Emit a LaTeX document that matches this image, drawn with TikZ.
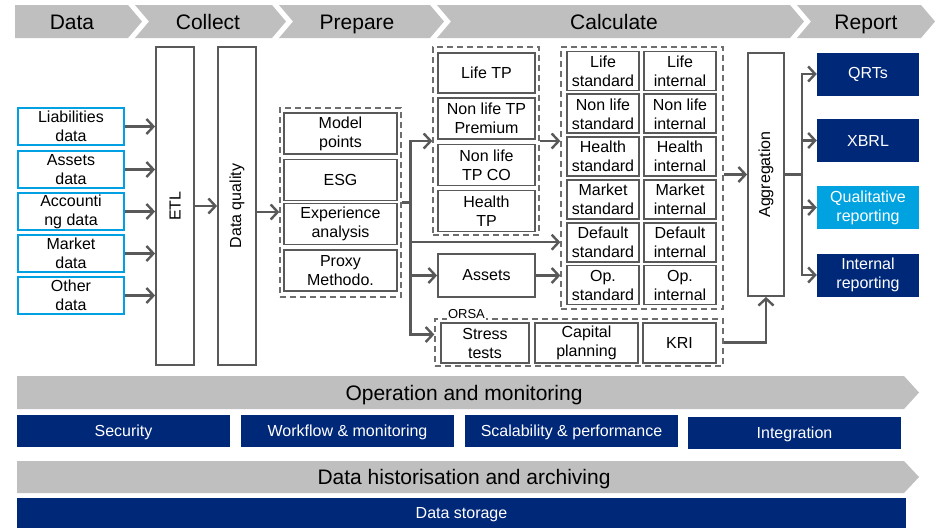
\documentclass[tikz,border=0pt]{standalone}
\usepackage{fontspec}
\setmainfont{Liberation Sans}
\usetikzlibrary{arrows.meta}
\definecolor{hdrgray}{RGB}{191,191,191}
\definecolor{lngray}{RGB}{89,89,89}
\definecolor{dshgray}{RGB}{110,110,110}
\definecolor{srcblue}{RGB}{0,160,226}
\definecolor{navy}{RGB}{0,40,120}
\definecolor{skyblue}{RGB}{0,163,224}
\tikzstyle{srcbox}=[rectangle,draw=srcblue,line width=1.6pt,minimum width=106pt,minimum height=37pt,inner sep=1pt,align=center,font=\fontsize{16}{19}\selectfont]
\tikzstyle{gbox}=[rectangle,draw=lngray,line width=1.8pt,inner sep=1pt,align=center,font=\fontsize{16}{19}\selectfont]
\tikzstyle{cbox}=[gbox,minimum width=72pt,minimum height=39pt]
\tikzstyle{grp}=[rectangle,draw=dshgray,line width=1.3pt,dash pattern=on 6pt off 4pt]
\tikzstyle{repbox}=[rectangle,fill=navy,text=white,minimum width=102pt,minimum height=43pt,inner sep=1pt,align=center,font=\fontsize{16}{19}\selectfont]
\tikzstyle{barbox}=[rectangle,fill=navy,text=white,minimum height=32pt,text height=11.5pt,text depth=0pt,font=\fontsize{16}{19}\selectfont]
\tikzstyle{arr}=[draw=lngray,line width=2.4pt,-{Straight Barb[length=7pt,width=15pt]}]
\tikzstyle{ln}=[draw=lngray,line width=2.4pt]
\tikzstyle{hdr}=[text height=15pt,text depth=0pt,font=\fontsize{21}{25}\selectfont]

\begin{document}
\begin{tikzpicture}[x=1pt,y=-1pt]
\useasboundingbox (0,0) rectangle (936,528);
\foreach \xa/\xb/\nd in {15/128/0,135/272/14,279/430/14,437/790/14,797/921/14}
  \fill[hdrgray] (\xa,5) -- (\xb,5) -- (\xb+14,21.5) -- (\xb,38) -- (\xa,38) -- (\xa+\nd,21.5) -- cycle;
\node (hdata) at (72,22)[hdr] {Data};
\node (hcoll) at (208,22)[hdr] {Collect};
\node (hprep) at (357,22)[hdr] {Prepare};
\node (hcalc) at (614,22)[hdr] {Calculate};
\node (hrep) at (866,22)[hdr] {Report};

\node (lia) at (71,126.5)[srcbox] {Liabilities\\data};
\node (ass) at (71,169.5)[srcbox] {Assets\\data};
\node (acc) at (71,211.5)[srcbox] {Accounti\\ng data};
\node (mkt) at (71,253.5)[srcbox] {Market\\data};
\node (oth) at (71,295.5)[srcbox] {Other\\data};
\node (etl) at (175,206)[gbox,minimum width=38pt,minimum height=318pt] {\rotatebox{90}{ETL}};
\node (dq) at (237,206)[gbox,minimum width=38pt,minimum height=318pt] {\rotatebox{90}{Data quality}};

\node (prep) at (340.5,202.5)[grp,minimum width=121pt,minimum height=189pt] {};
\node (mp) at (340.5,133.5)[gbox,minimum width=113pt,minimum height=41pt] {Model\\points};
\node (esg) at (340.5,180)[gbox,minimum width=113pt,minimum height=41pt] {ESG};
\node (exp) at (340.5,224)[gbox,minimum width=113pt,minimum height=41pt] {Experience\\analysis};
\node (prx) at (340.5,270.5)[gbox,minimum width=113pt,minimum height=41pt] {Proxy\\Methodo.};

\node (tpgrp) at (486,141)[grp,minimum width=106pt,minimum height=188pt] {};
\node (ltp) at (486.5,73)[gbox,minimum width=97pt,minimum height=40pt] {Life TP};
\node (ntp) at (486.5,118.5)[gbox,minimum width=97pt,minimum height=41pt] {Non life TP\\Premium};
\node (nco) at (486.5,165)[gbox,minimum width=97pt,minimum height=41pt] {Non life\\TP CO};
\node (htp) at (486.5,211)[gbox,minimum width=97pt,minimum height=41pt] {Health\\TP};
\node (assets) at (486.5,275.5)[gbox,minimum width=97pt,minimum height=43pt] {Assets};

\node (calc) at (642,178)[grp,minimum width=162pt,minimum height=262pt] {};
\foreach \nm/\lbl [count=\i from 0] in {life/Life,nonlife/Non life,health/Health,market/Market,default/Default,op/Op.}{
  \node (std\nm) at (603,71+42.8*\i)[cbox] {\lbl\\standard};
  \node (int\nm) at (680,71+42.8*\i)[cbox] {\lbl\\internal};
}

\node (orsa) at (579,342.5)[grp,minimum width=288pt,minimum height=47pt] {};
\node (orsalbl) at ([xshift=12pt,yshift=4pt]orsa.north west)[anchor=west,fill=white,inner sep=1.5pt,font=\fontsize{13}{15}\selectfont] {ORSA};
\node (sts) at (485,343)[gbox,minimum width=88pt,minimum height=40pt] {Stress\\tests};
\node (cap) at (586.5,343)[gbox,minimum width=103pt,minimum height=40pt] {Capital\\planning};
\node (kri) at (679.5,343)[gbox,minimum width=73pt,minimum height=40pt] {KRI};

\node (agg) at (766,174.5)[gbox,minimum width=36pt,minimum height=243pt] {\rotatebox{90}{Aggregation}};
\node (qrt) at (868,74)[repbox] {QRTs};
\node (xbrl) at (868,140.5)[repbox] {XBRL};
\node (qual) at (868,207.5)[repbox,fill=skyblue] {Qualitative\\reporting};
\node (intr) at (868,275)[repbox] {Internal\\reporting};

\foreach \s in {lia,ass,acc,mkt,oth} \draw[arr] (\s) -- (\s -| etl.west);
\draw[arr] (etl) -- (dq);
\draw[arr] ([yshift=-6pt]dq.east) -- ([yshift=-6pt]dq.east -| prep.west);
\coordinate (trunk) at ([xshift=9pt]prep.east);
\draw[ln] (prep.east) -- (trunk);
\draw[arr] (trunk) |- (tpgrp.west);
\draw[arr] (trunk) |- (calc.west |- stddefault);
\draw[arr] (trunk) |- (assets);
\draw[arr] (trunk) |- ([yshift=8pt]orsa.west);
\draw[arr] (tpgrp.east) -- (tpgrp.east -| calc.west);
\draw[arr] (assets) -- (assets -| calc.west);
\draw[arr] (calc.east |- agg) -- (agg);
\draw[arr] (orsa.east) -| (agg);
\coordinate (hub) at ([xshift=17pt]agg.east);
\draw[ln] (agg.east) -- (hub);
\foreach \r in {qrt,xbrl,qual,intr} \draw[arr] (hub) |- (\r);

\fill[hdrgray] (17,376) -- (904,376) -- (919,392.5) -- (904,409) -- (17,409) -- cycle;
\node (opmon) at (464,392.5)[hdr] {Operation and monitoring};
\node (sec) at (123.5,431)[barbox,minimum width=213pt] {Security};
\node (wfm) at (347.5,431)[barbox,minimum width=213pt] {Workflow \& monitoring};
\node (scal) at (571.5,431)[barbox,minimum width=213pt] {Scalability \& performance};
\node (integ) at (794.5,433)[barbox,minimum width=213pt] {Integration};
\fill[hdrgray] (17,461) -- (904,461) -- (919,477) -- (904,493) -- (17,493) -- cycle;
\node (hist) at (464,477)[hdr] {Data historisation and archiving};
\node (store) at (461.5,513)[barbox,minimum width=889pt,minimum height=30pt] {Data storage};
\end{tikzpicture}
\end{document}
